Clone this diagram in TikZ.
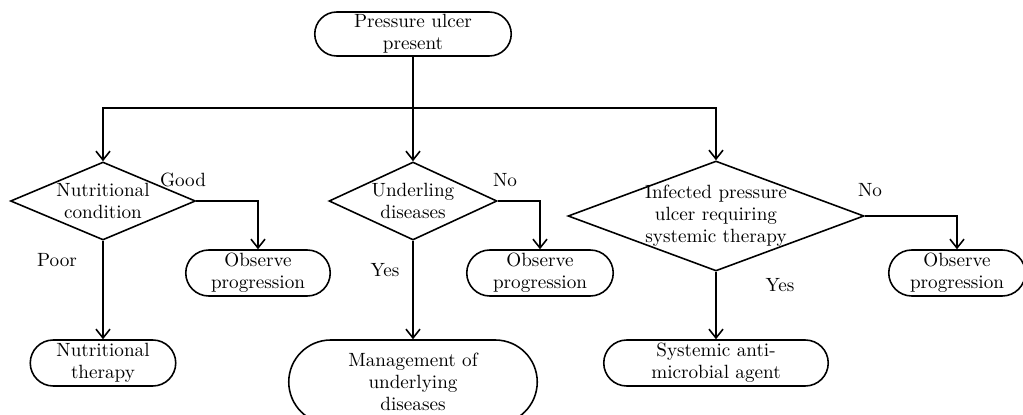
\documentclass[tikz,border=0pt]{standalone}
\usepackage{amsmath}
\usepackage{tikz}
\usetikzlibrary{shapes.geometric, shapes.misc, arrows.meta}

\begin{document}
\begin{tikzpicture}[line width=0.9pt, >={Straight Barb[length=5pt, width=8pt]},
    font=\fontsize{10.9pt}{12.6pt}\selectfont,
    term/.style={rounded rectangle, draw, align=center, inner sep=1pt},
    choice/.style={diamond, draw, align=center, inner sep=-2pt}]
    \useasboundingbox (0, 0) rectangle (20.46, 8.28);
    \node[term, minimum width=4cm, minimum height=0.88cm] (ulcer)
        at (8.26, 7.6) {Pressure ulcer\\present};
    \coordinate (split) at (8.26, 6.12);

    \node[choice, shape aspect=2.4, minimum width=3.7cm, minimum height=1.56cm] (nutr)
        at (2.06, 4.26) {Nutritional\\condition};
    \node[choice, shape aspect=2.15, minimum width=3.36cm, minimum height=1.56cm] (under)
        at (8.26, 4.26) {Underling\\diseases};
    \node[choice, shape aspect=2.7, minimum width=5.92cm, minimum height=2.2cm] (infect)
        at (14.32, 3.96) {Infected pressure\\ulcer requiring\\systemic therapy};

    \node[term, minimum width=2.96cm, minimum height=0.92cm] (obs1)
        at (5.16, 2.82) {Observe\\progression};
    \node[term, minimum width=3cm, minimum height=0.92cm] (obs2)
        at (10.8, 2.82) {Observe\\progression};
    \node[term, minimum width=2.8cm, minimum height=0.92cm] (obs3)
        at (19.14, 2.82) {Observe\\progression};

    \node[term, minimum width=2.98cm, minimum height=0.92cm] (therapy)
        at (2.06, 1.02) {Nutritional\\therapy};
    \node[term, minimum width=5.04cm, minimum height=1.68cm] (manage)
        at (8.26, 0.64) {Management of\\underlying\\diseases};
    \node[term, minimum width=4.56cm, minimum height=0.92cm] (agent)
        at (14.32, 1.02) {Systemic anti-\\microbial agent};

    \draw[->] (ulcer) -- (under);
    \draw[->] (split) -| (nutr.north);
    \draw[->] (split) -| (infect.north);

    \draw[->] (nutr.east) -| (obs1.north);
    \draw[->] (under.east) -| (obs2.north);
    \draw[->] (infect.east) -| (obs3.north);
    \draw[->] (nutr.south) -- (therapy.north);
    \draw[->] (under.south) -- (manage.north);
    \draw[->] (infect.south) -- (agent.north);

    \node (good) at (3.66, 4.68) {Good};
    \node (no1) at (10.1, 4.68) {No};
    \node (no2) at (17.4, 4.48) {No};
    \node (poor) at (1.14, 3.08) {Poor};
    \node (yes1) at (7.7, 2.88) {Yes};
    \node (yes2) at (15.6, 2.58) {Yes};
\end{tikzpicture}
\end{document}
